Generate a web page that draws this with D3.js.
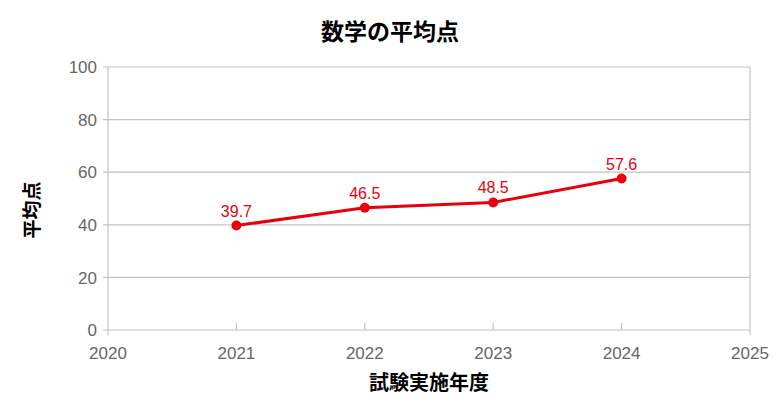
<!DOCTYPE html>
<html>
<head>
<meta charset="utf-8">
<script src="https://cdn.jsdelivr.net/npm/d3@7"></script>
<style>
  body { margin: 0; background: #fff; }
  text { font-family: "Liberation Sans", Arial, sans-serif; }
  .jp { font-family: "Noto Sans CJK JP", sans-serif; font-weight: bold; }
</style>
</head>
<body>
<div id="chart"></div>
<script>
// chart data
const years = [2021, 2022, 2023, 2024]
const scores = [39.7, 46.5, 48.5, 57.6]
const xTicks = [2020, 2021, 2022, 2023, 2024, 2025]
const yTicks = [0, 20, 40, 60, 80, 100]

const W = 782, H = 415
const margin = { top: 67, right: 32, bottom: 85, left: 108 }
const width = W - margin.left - margin.right
const height = H - margin.top - margin.bottom

const svg = d3.select("#chart").append("svg")
    .attr("width", W)
    .attr("height", H)

const g = svg.append("g")
    .attr("transform", "translate(" + margin.left + "," + margin.top + ")")

const x = d3.scaleLinear().domain([2020, 2025]).range([0, width])
const y = d3.scaleLinear().domain([0, 100]).range([height, 0])

// horizontal grid lines + y ticks
g.selectAll(".grid")
    .data(yTicks)
    .enter().append("line")
    .attr("x1", -5)
    .attr("x2", width)
    .attr("y1", d => y(d))
    .attr("y2", d => y(d))
    .attr("stroke", "#c3c3c3")
    .attr("stroke-width", 1.2)

g.selectAll(".ylab")
    .data(yTicks)
    .enter().append("text")
    .attr("x", -11)
    .attr("y", d => y(d))
    .attr("dy", "0.36em")
    .attr("text-anchor", "end")
    .attr("fill", "#666")
    .style("font-size", "17px")
    .text(d => d)

// left and right frame
g.append("line")
    .attr("x1", 0).attr("x2", 0)
    .attr("y1", 0).attr("y2", height + 5)
    .attr("stroke", "#c3c3c3").attr("stroke-width", 1.2)
g.append("line")
    .attr("x1", width).attr("x2", width)
    .attr("y1", 0).attr("y2", height + 5)
    .attr("stroke", "#c3c3c3").attr("stroke-width", 1.2)

// x ticks (inside)
g.selectAll(".xtick")
    .data(xTicks.slice(1, -1))
    .enter().append("line")
    .attr("x1", d => x(d)).attr("x2", d => x(d))
    .attr("y1", height - 7).attr("y2", height)
    .attr("stroke", "#c3c3c3").attr("stroke-width", 1.2)

g.selectAll(".xlab")
    .data(xTicks)
    .enter().append("text")
    .attr("x", d => x(d))
    .attr("y", height + 29)
    .attr("text-anchor", "middle")
    .attr("fill", "#666")
    .style("font-size", "17px")
    .text(d => d)

// line
const pts = years.map((yr, i) => ({ yr: yr, v: scores[i] }))
const line = d3.line().x(d => x(d.yr)).y(d => y(d.v))

g.append("path")
    .datum(pts)
    .attr("fill", "none")
    .attr("stroke", "#e8000b")
    .attr("stroke-width", 3)
    .attr("d", line)

g.selectAll(".dot")
    .data(pts)
    .enter().append("circle")
    .attr("cx", d => x(d.yr))
    .attr("cy", d => y(d.v))
    .attr("r", 5)
    .attr("fill", "#e8000b")

g.selectAll(".vlab")
    .data(pts)
    .enter().append("text")
    .attr("x", d => x(d.yr))
    .attr("y", d => y(d.v) - 9)
    .attr("text-anchor", "middle")
    .attr("fill", "#e8000b")
    .style("font-size", "16px")
    .text(d => d.v.toFixed(1))

// titles
svg.append("text")
    .attr("class", "jp")
    .attr("x", 390)
    .attr("y", 40)
    .attr("text-anchor", "middle")
    .style("font-size", "23px")
    .text("数学の平均点")

svg.append("text")
    .attr("class", "jp")
    .attr("x", margin.left + width / 2)
    .attr("y", 390)
    .attr("text-anchor", "middle")
    .style("font-size", "20px")
    .text("試験実施年度")

svg.append("text")
    .attr("class", "jp")
    .attr("transform", "translate(39,210)rotate(-90)")
    .attr("text-anchor", "middle")
    .style("font-size", "19px")
    .text("平均点")
</script>
</body>
</html>
